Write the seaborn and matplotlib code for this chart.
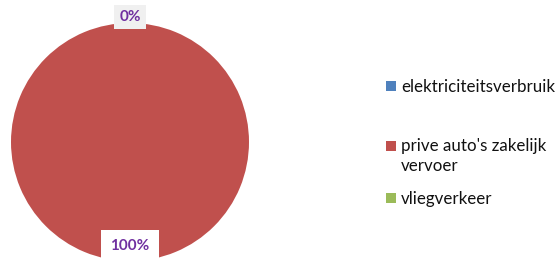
import matplotlib
matplotlib.use("Agg")
import matplotlib.pyplot as plt
import seaborn as sns
from matplotlib.legend_handler import HandlerPatch
from matplotlib.patches import Rectangle

# data
categories = ["elektriciteitsverbruik", "prive auto's zakelijk\nvervoer", "vliegverkeer"]
values = [0, 100, 0]
colors = ["#4F81BD", "#C0504D", "#9BBB59"]

sns.set_style("white")
plt.rcParams['font.family'] = ['Lato', 'DejaVu Sans']

fig = plt.figure(figsize=(5.58, 2.72), dpi=100)
# pie axes: centre (130,142) px from top, radius 119 px
ax = fig.add_axes([11 / 558, 11 / 272, 238 / 558, 238 / 272])

wedges, texts, autotexts = ax.pie(
    values, colors=colors, startangle=90, counterclock=False,
    autopct=lambda p: f"{p:.0f}%", pctdistance=0.875,
    wedgeprops=dict(linewidth=0),
    textprops=dict(color="#7030A0", fontsize=11, fontweight="bold"),
)
ax.set_xlim(-1, 1)
ax.set_ylim(-1, 1)
ax.set_aspect("equal")
ax.axis("off")

for val, t in zip(values, autotexts):
    if val == 0:
        t.set_position((0, 1.05))
        t.set_bbox(dict(facecolor="#F0F0F0", edgecolor="none", boxstyle="square,pad=0.35"))
    else:
        t.set_bbox(dict(facecolor="white", edgecolor="none", boxstyle="square,pad=0.6"))

# legend font size: widest label should be ~153 px wide
renderer = fig.canvas.get_renderer()
probe = fig.text(0, 0, categories[0], fontsize=13)
fs = 13 * 153 / probe.get_window_extent(renderer).width
probe.remove()


# squares line up with the first line of a label, like Excel
def top_square(legend, orig_handle, xdescent, ydescent, width, height, fontsize):
    return Rectangle((-xdescent, -ydescent + 0.62 * fontsize), width, height)


sq = 10 * 72 / 100 / fs  # 10 px squares
leg_kw = dict(loc="center left", frameon=False, fontsize=fs, handlelength=sq,
              handleheight=sq, handletextpad=5 * 72 / 100 / fs, borderpad=0,
              borderaxespad=0, labelcolor="#111111")
row_y = [87, 156, 199]
for w, lab, y in zip(wedges, categories, row_y):
    hm = {w: HandlerPatch(patch_func=top_square)} if "\n" in lab else None
    leg = fig.legend([w], [lab], bbox_to_anchor=(386 / 558, 1 - y / 272),
                     handler_map=hm, **leg_kw)
    for t in leg.get_texts():
        t.set_linespacing(1.3)

fig.savefig("out.png", dpi=100)
